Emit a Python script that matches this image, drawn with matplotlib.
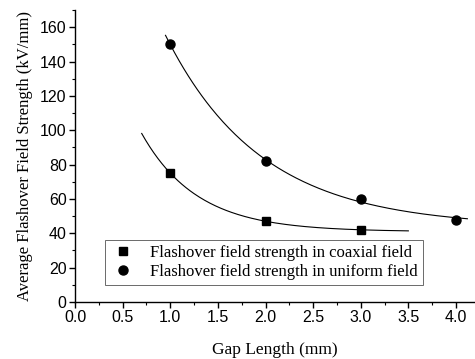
import numpy as np
import matplotlib
matplotlib.use("Agg")
import matplotlib.pyplot as plt

# data
gap_coax = [1.0, 2.0, 3.0]
field_coax = [75, 47, 42]
gap_unif = [1.0, 2.0, 3.0, 4.0]
field_unif = [150, 82, 60, 48]

# ranges of the fitted curves
coax_range = (0.7, 3.5)
unif_range = (0.95, 4.12)


def fit_expdec(x, y):
    # y = y0 + A*exp(-x/t), grid search on t, least squares for y0 and A
    x = np.asarray(x, float)
    y = np.asarray(y, float)
    best = None
    for t in np.linspace(0.2, 5, 2000):
        M = np.column_stack([np.ones_like(x), np.exp(-x / t)])
        coef, res, *_ = np.linalg.lstsq(M, y, rcond=None)
        err = np.sum((M @ coef - y) ** 2)
        if best is None or err < best[0]:
            best = (err, coef[0], coef[1], t)
    _, y0, a, t = best
    return lambda xx: y0 + a * np.exp(-xx / t)


fig = plt.figure(figsize=(4.75, 3.59), dpi=100)
ax = fig.add_axes([0.158, 0.159, 0.842, 0.813])

f1 = fit_expdec(gap_coax, field_coax)
xs = np.linspace(*coax_range, 200)
ax.plot(xs, f1(xs), color="black", lw=0.8)
f2 = fit_expdec(gap_unif, field_unif)
xs = np.linspace(*unif_range, 200)
ax.plot(xs, f2(xs), color="black", lw=0.8)

ax.plot(gap_coax, field_coax, "s", color="black", ms=6,
        label="Flashover field strength in coaxial field")
ax.plot(gap_unif, field_unif, "o", color="black", ms=6.5,
        label="Flashover field strength in uniform field")

ax.set_xlim(0, 4.2)
ax.set_ylim(0, 170)
ax.set_xticks(np.arange(0, 4.01, 0.5))
ax.set_yticks(np.arange(0, 161, 20))
ax.set_xticks(np.arange(0.25, 4.2, 0.5), minor=True)
ax.set_yticks(np.arange(10, 171, 20), minor=True)
ax.set_xticklabels([f"{v:.1f}" for v in np.arange(0, 4.01, 0.5)])

for s in ["top", "right"]:
    ax.spines[s].set_visible(False)
ax.spines["left"].set_linewidth(1.0)
ax.spines["bottom"].set_linewidth(1.0)
ax.tick_params(which="major", direction="out", length=4, width=1.0,
               labelsize=11.5, pad=2)
ax.tick_params(which="minor", direction="out", length=2.5, width=0.8)
for lab in ax.get_xticklabels() + ax.get_yticklabels():
    lab.set_family("Liberation Sans")

ax.set_xlabel("Gap Length (mm)", family="Liberation Serif", fontsize=12.5,
              labelpad=12)
ax.set_ylabel("Average Flashover Field Strength (kV/mm)",
              family="Liberation Serif", fontsize=12, labelpad=5)

leg = ax.legend(loc="lower left", bbox_to_anchor=(0.075, 0.058),
                borderaxespad=0,
                prop={"family": "Liberation Serif", "size": 12},
                frameon=True, fancybox=False, edgecolor="#444444",
                borderpad=0.3, handletextpad=0.9, labelspacing=0.2,
                handlelength=1.5)
leg.get_frame().set_linewidth(0.7)

fig.savefig("out.png", dpi=100)
